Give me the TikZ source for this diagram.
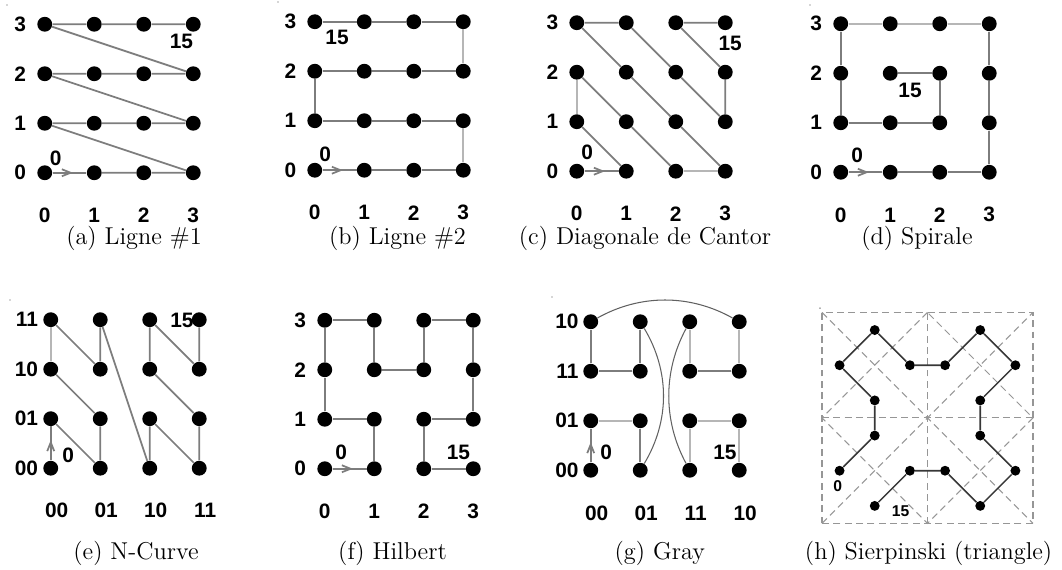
\documentclass[tikz,border=0pt]{standalone}
\usepackage{fontspec}
\usepackage{tikz}
\usetikzlibrary{arrows.meta,decorations.markings}
\newfontfamily\axisfont{Liberation Sans}
\definecolor{lineGray}{RGB}{125,125,125}
\definecolor{lineLight}{RGB}{182,182,182}
\definecolor{lineDark}{RGB}{55,55,55}
\definecolor{gridGray}{RGB}{150,150,150}
\tikzset{
  dot/.style={circle, fill=black, inner sep=0pt, minimum size=0.3cm},
  smalldot/.style={circle, fill=black, inner sep=0pt, minimum size=0.2cm},
  walk/.style={draw=lineGray, line width=1pt},
  walklight/.style={draw=lineLight, line width=1pt},
  jump/.style={draw=black!62, line width=0.6pt},
  sierpline/.style={draw=lineDark, line width=0.9pt},
  helpline/.style={draw=gridGray, line width=0.6pt, dash pattern=on 4pt off 2.5pt},
  startarrow/.style={postaction={decorate}, decoration={markings,
      mark=at position 0.6 with {\arrow[lineGray]{Straight Barb[length=5pt,width=4pt]}}}},
  axislabel/.style={font=\axisfont\bfseries\fontsize{12}{12}\selectfont, inner sep=0pt},
  smalllabel/.style={font=\axisfont\bfseries\fontsize{9}{9}\selectfont, inner sep=0pt},
  subcaption/.style={font=\fontsize{14}{16}\selectfont, inner sep=0pt}
}

\begin{document}
\begin{tikzpicture}
  \useasboundingbox (0,0) rectangle (21.4545,11.5152);
  % stray specks of the scanned figure
  \foreach \p in {(0.141,11.414),(5.616,11.475),(16.364,11.414),(0.202,5.455),(11.152,5.515),(16.566,5.29)}
    \fill[black!70] \p circle (0.4pt);

  % (a) Ligne #1
  \begin{scope}[shift={(0.904,8.025)}]
    \foreach \x in {0,...,3}
      \foreach \y in {0,...,3}
        \node[dot] (a-\x-\y) at (\x,\y) {};
    \foreach \v in {0,...,3} {
      \node[axislabel, anchor=east] (a-row-\v) at (-0.37,\v) {\v};
      \node[axislabel] (a-col-\v) at (\v,-0.86) {\v};
    }
    \draw[walk, startarrow] (a-0-0) -- (a-1-0);
    \draw[walk] (a-1-0) -- (a-2-0) -- (a-3-0) -- (a-0-1) -- (a-1-1) -- (a-2-1) -- (a-3-1)
      -- (a-0-2) -- (a-1-2) -- (a-2-2) -- (a-3-2) -- (a-0-3) -- (a-1-3) -- (a-2-3) -- (a-3-3);
    \node[axislabel] (a-first) at (0.22,0.29) {0};
    \node[axislabel] (a-last) at (2.76,2.66) {15};
  \end{scope}
  \node[subcaption] (a-cap) at (2.707,6.69) {(a) Ligne \#1};

  % (b) Ligne #2
  \begin{scope}[shift={(6.359,8.076)}]
    \foreach \x in {0,...,3}
      \foreach \y in {0,...,3}
        \node[dot] (b-\x-\y) at (\x,\y) {};
    \foreach \v in {0,...,3} {
      \node[axislabel, anchor=east] (b-row-\v) at (-0.37,\v) {\v};
      \node[axislabel] (b-col-\v) at (\v,-0.86) {\v};
    }
    \draw[walk, startarrow] (b-0-0) -- (b-1-0);
    \draw[walk] (b-1-0) -- (b-2-0) -- (b-3-0);
    \draw[walklight] (b-3-0) -- (b-3-1);
    \draw[walk] (b-3-1) -- (b-2-1) -- (b-1-1) -- (b-0-1) -- (b-0-2) -- (b-1-2) -- (b-2-2) -- (b-3-2);
    \draw[walklight] (b-3-2) -- (b-3-3);
    \draw[walk] (b-3-3) -- (b-2-3) -- (b-1-3) -- (b-0-3);
    \node[axislabel] (b-first) at (0.21,0.33) {0};
    \node[axislabel] (b-last) at (0.45,2.69) {15};
  \end{scope}
  \node[subcaption] (b-cap) at (8.03,6.69) {(b) Ligne \#2};

  % (c) Diagonale de Cantor
  \begin{scope}[shift={(11.652,8.056)}]
    \foreach \x in {0,...,3}
      \foreach \y in {0,...,3}
        \node[dot] (c-\x-\y) at (\x,\y) {};
    \foreach \v in {0,...,3} {
      \node[axislabel, anchor=east] (c-row-\v) at (-0.37,\v) {\v};
      \node[axislabel] (c-col-\v) at (\v,-0.86) {\v};
    }
    \draw[walk, startarrow] (c-0-0) -- (c-1-0);
    \draw[walk] (c-1-0) -- (c-0-1);
    \draw[walklight] (c-0-1) -- (c-0-2);
    \draw[walk] (c-0-2) -- (c-1-1) -- (c-2-0);
    \draw[walklight] (c-2-0) -- (c-3-0);
    \draw[walk] (c-3-0) -- (c-2-1) -- (c-1-2) -- (c-0-3) -- (c-1-3) -- (c-2-2) -- (c-3-1)
      -- (c-3-2) -- (c-2-3) -- (c-3-3);
    \node[axislabel] (c-first) at (0.21,0.39) {0};
    \node[axislabel] (c-last) at (3.1,2.59) {15};
  \end{scope}
  \node[subcaption] (c-cap) at (13.03,6.69) {(c) Diagonale de Cantor};

  % (d) Spirale
  \begin{scope}[shift={(16.985,8.035)}]
    \foreach \x in {0,...,3}
      \foreach \y in {0,...,3}
        \node[dot] (d-\x-\y) at (\x,\y) {};
    \foreach \v in {0,...,3} {
      \node[axislabel, anchor=east] (d-row-\v) at (-0.37,\v) {\v};
      \node[axislabel] (d-col-\v) at (\v,-0.86) {\v};
    }
    \draw[walk, startarrow] (d-0-0) -- (d-1-0);
    \draw[walk] (d-1-0) -- (d-2-0) -- (d-3-0) -- (d-3-1) -- (d-3-2) -- (d-3-3);
    \draw[walklight] (d-3-3) -- (d-2-3) -- (d-1-3) -- (d-0-3);
    \draw[walk] (d-0-3) -- (d-0-2) -- (d-0-1) -- (d-1-1) -- (d-2-1) -- (d-2-2) -- (d-1-2);
    \node[axislabel] (d-first) at (0.33,0.35) {0};
    \node[axislabel] (d-last) at (1.4,1.66) {15};
  \end{scope}
  \node[subcaption] (d-cap) at (18.525,6.69) {(d) Spirale};

  % (e) N-Curve
  \begin{scope}[shift={(1.025,2.056)}]
    \foreach \x in {0,...,3}
      \foreach \y in {0,...,3}
        \node[dot] (e-\x-\y) at (\x,\y) {};
    \foreach \v [count=\i from 0] in {00,01,10,11} {
      \node[axislabel, anchor=east] (e-row-\i) at (-0.25,\i) {\v};
      \node[axislabel] (e-col-\i) at (\i+0.12,-0.86) {\v};
    }
    \draw[walk, startarrow] (e-0-0) -- (e-0-1);
    \draw[walk] (e-0-1) -- (e-1-0) -- (e-1-1) -- (e-0-2);
    \draw[walklight] (e-0-2) -- (e-0-3);
    \draw[walk] (e-0-3) -- (e-1-2) -- (e-1-3) -- (e-2-0) -- (e-2-1) -- (e-3-0) -- (e-3-1)
      -- (e-2-2) -- (e-2-3) -- (e-3-2) -- (e-3-3);
    \node[axislabel] (e-first) at (0.35,0.27) {0};
    \node[axislabel] (e-last) at (2.65,2.99) {15};
  \end{scope}
  \node[subcaption] (e-cap) at (2.747,0.343) {(e) N-Curve};

  % (f) Hilbert
  \begin{scope}[shift={(6.561,2.045)}]
    \foreach \x in {0,...,3}
      \foreach \y in {0,...,3}
        \node[dot] (f-\x-\y) at (\x,\y) {};
    \foreach \v in {0,...,3} {
      \node[axislabel, anchor=east] (f-row-\v) at (-0.37,\v) {\v};
      \node[axislabel] (f-col-\v) at (\v,-0.86) {\v};
    }
    \draw[walk, startarrow] (f-0-0) -- (f-1-0);
    \draw[walk] (f-1-0) -- (f-1-1) -- (f-0-1) -- (f-0-2) -- (f-0-3) -- (f-1-3) -- (f-1-2)
      -- (f-2-2) -- (f-2-3) -- (f-3-3) -- (f-3-2) -- (f-3-1) -- (f-2-1) -- (f-2-0) -- (f-3-0);
    \node[axislabel] (f-first) at (0.33,0.34) {0};
    \node[axislabel] (f-last) at (2.7,0.34) {15};
  \end{scope}
  \node[subcaption] (f-cap) at (7.93,0.343) {(f) Hilbert};

  % (g) Gray
  \begin{scope}[shift={(11.934,2.015)}]
    \foreach \x in {0,...,3}
      \foreach \y in {0,...,3}
        \node[dot] (g-\x-\y) at (\x,\y) {};
    \foreach \v [count=\i from 0] in {00,01,11,10} {
      \node[axislabel, anchor=east] (g-row-\i) at (-0.24,\i) {\v};
      \node[axislabel] (g-col-\i) at (\i+0.12,-0.86) {\v};
    }
    \draw[walk, startarrow] (g-0-0) -- (g-0-1);
    \draw[walklight] (g-0-1) -- (g-1-1);
    \draw[walk] (g-1-1) -- (g-1-0);
    \draw[jump] (g-1-0) .. controls (1.6,1) and (1.6,2) .. (g-1-3);
    \draw[walk] (g-1-3) -- (g-1-2) -- (g-0-2) -- (g-0-3);
    \draw[jump] (g-0-3) .. controls (1,3.56) and (2,3.56) .. (g-3-3);
    \draw[walklight] (g-3-3) -- (g-3-2);
    \draw[walk] (g-3-2) -- (g-2-2);
    \draw[walklight] (g-2-2) -- (g-2-3);
    \draw[jump] (g-2-3) .. controls (1.46,2) and (1.46,1) .. (g-2-0);
    \draw[walklight] (g-2-0) -- (g-2-1) -- (g-3-1) -- (g-3-0);
    \node[axislabel] (g-first) at (0.31,0.37) {0};
    \node[axislabel] (g-last) at (2.71,0.37) {15};
  \end{scope}
  \node[subcaption] (g-cap) at (13.33,0.343) {(g) Gray};

  % (h) Sierpinski (triangle)
  \begin{scope}[shift={(18.737,3.071)}, scale=0.1776]
    \draw[helpline] (-12,-12) rectangle (12,12);
    \draw[helpline] (-12,0) -- (12,0) (0,-12) -- (0,12);
    \draw[helpline] (-12,-12) -- (12,12) (-12,12) -- (12,-12);
    \draw[helpline] (0,12) -- (-12,0) -- (0,-12) -- (12,0) -- cycle;
    \foreach \p [count=\k from 0] in {(-10,-6),(-6,-2),(-6,2),(-10,6),(-6,10),(-2,6),(2,6),(6,10),
        (10,6),(6,2),(6,-2),(10,-6),(6,-10),(2,-6),(-2,-6),(-6,-10)}
      \node[smalldot] (h-\k) at \p {};
    \draw[sierpline] (h-0) -- (h-1) -- (h-2) -- (h-3) -- (h-4) -- (h-5) -- (h-6) -- (h-7)
      -- (h-8) -- (h-9) -- (h-10) -- (h-11) -- (h-12) -- (h-13) -- (h-14) -- (h-15);
    \node[smalllabel] (h-first) at (-10.2,-7.8) {0};
    \node[smalllabel] (h-last) at (-3.05,-10.56) {15};
  \end{scope}
  \node[subcaption] (h-cap) at (18.76,0.343) {(h) Sierpinski (triangle)};
\end{tikzpicture}
\end{document}
